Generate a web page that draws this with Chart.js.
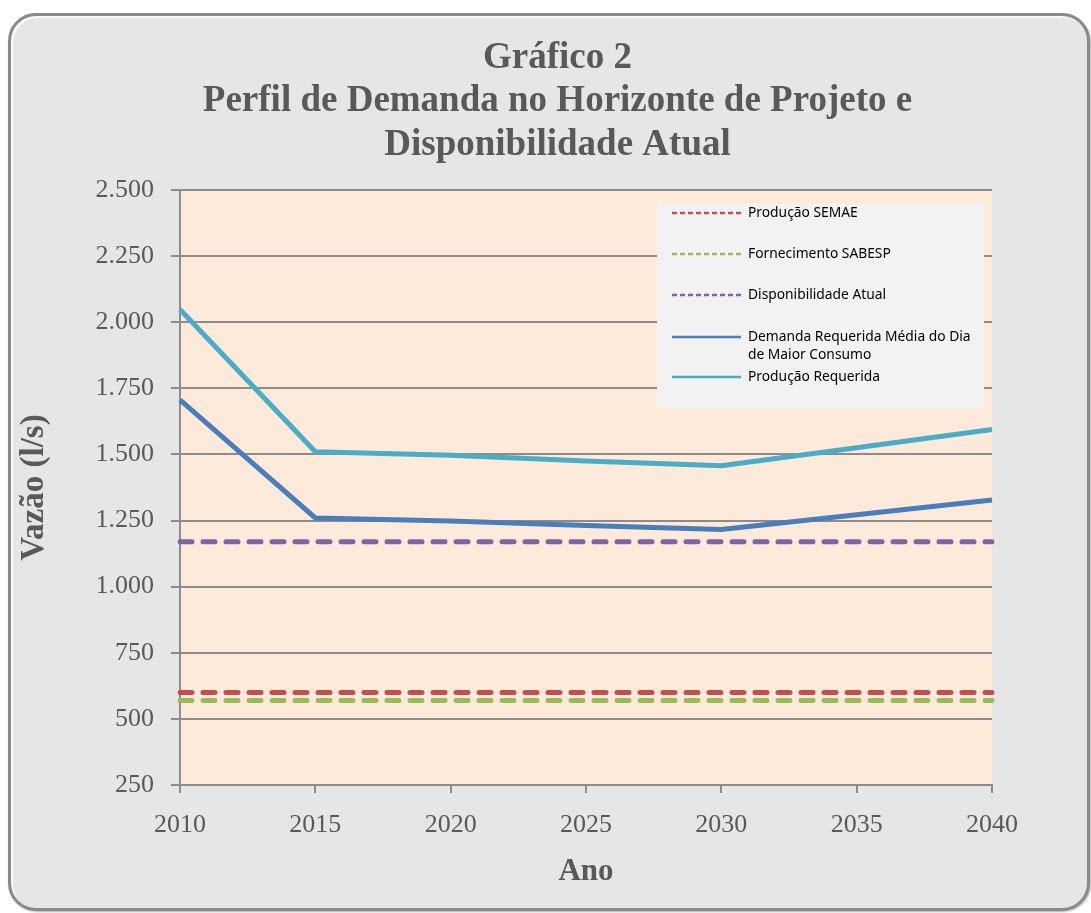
<!DOCTYPE html>
<html lang="pt-BR">
<head>
<meta charset="utf-8">
<title>Gráfico 2</title>
<script src="https://cdn.jsdelivr.net/npm/chart.js@4.4.1/dist/chart.umd.min.js"></script>
<style>
  html, body { margin: 0; padding: 0; background: #fff; overflow: hidden; }
  #panel {
    position: absolute; left: 8px; top: 13px; width: 1082px; height: 898px;
    box-sizing: border-box; background: #e6e6e6;
    border: 3px solid #8a8a8a; border-radius: 28px;
    box-shadow: inset 2px 2px 1px #fafafa, 1px 1px 2px rgba(0,0,0,0.3);
  }
  #wrap { position: absolute; left: 0; top: 0; width: 1091px; height: 913px; }
</style>
</head>
<body>
<div id="panel"></div>
<div id="wrap"><canvas id="grafico" width="1091" height="913"></canvas></div>
<script>
const anos = ['2010', '2015', '2020', '2025', '2030', '2035', '2040'];
const producaoSemae = [600, 600, 600, 600, 600, 600, 600];
const fornecimentoSabesp = [570, 570, 570, 570, 570, 570, 570];
const disponibilidadeAtual = [1170, 1170, 1170, 1170, 1170, 1170, 1170];
const demandaRequerida = [1706, 1260, 1248, 1231, 1216, 1272, 1328];
const producaoRequerida = [2048, 1510, 1497, 1475, 1457, 1525, 1594];
const nomesSeries = [
  'Produção SEMAE',
  'Fornecimento SABESP',
  'Disponibilidade Atual',
  'Demanda Requerida Média do Dia de Maior Consumo',
  'Produção Requerida'
];
const yTicks = [250, 500, 750, 1000, 1250, 1500, 1750, 2000, 2250, 2500];
const tituloLinhas = ['Gráfico 2', 'Perfil de Demanda no Horizonte de Projeto e', 'Disponibilidade Atual'];

const cinza = '#595959';
const grade = '#8c8c8c';
const serif = '"Liberation Serif", "Times New Roman", serif';

function formatoBR(v) {
  return String(v).replace(/\B(?=(\d{3})+(?!\d))/g, '.');
}

// fundo da área de plotagem
const fundoPlot = {
  id: 'fundoPlot',
  beforeDraw(chart) {
    const { ctx, chartArea: a } = chart;
    ctx.save();
    ctx.fillStyle = '#fdeada';
    ctx.fillRect(a.left, a.top, a.right - a.left, a.bottom - a.top);
    ctx.restore();
  }
};

// título centrado no painel (o do Chart.js fica centrado no layout)
const tituloPainel = {
  id: 'tituloPainel',
  afterDraw(chart) {
    const { ctx } = chart;
    ctx.save();
    ctx.fillStyle = cinza;
    ctx.font = 'bold 37px ' + serif;
    ctx.textAlign = 'center';
    ctx.textBaseline = 'middle';
    tituloLinhas.forEach((t, i) => ctx.fillText(t, chart.width / 2 + 12, 58 + i * 43.5));
    ctx.restore();
  }
};

// legenda dentro da área, como no original
const legendaInterna = {
  id: 'legendaInterna',
  afterDraw(chart) {
    const { ctx, chartArea: a } = chart;
    const bx = a.right - 335, by = a.top + 13, bw = 327, bh = 205;
    ctx.save();
    ctx.fillStyle = '#f2f2f2';
    ctx.fillRect(bx, by, bw, bh);
    ctx.font = '13.8px "Noto Sans", sans-serif';
    ctx.textBaseline = 'middle';
    const linhasY = [10, 51, 92, 134, 174];
    chart.data.datasets.forEach((ds, i) => {
      const y = by + linhasY[i];
      ctx.strokeStyle = ds.borderColor;
      ctx.lineWidth = 2.5;
      ctx.setLineDash(ds.borderDash && ds.borderDash.length ? [5, 3] : []);
      ctx.beginPath();
      ctx.moveTo(bx + 15, y);
      ctx.lineTo(bx + 84, y);
      ctx.stroke();
      ctx.fillStyle = '#000';
      // quebra de linha simples
      const palavras = ds.label.split(' ');
      let linha = '', ly = y;
      palavras.forEach(p => {
        const teste = linha ? linha + ' ' + p : p;
        if (ctx.measureText(teste).width > 232 && linha) {
          ctx.fillText(linha, bx + 91, ly);
          linha = p; ly += 18;
        } else linha = teste;
      });
      ctx.fillText(linha, bx + 91, ly);
    });
    ctx.restore();
  }
};

function serie(label, data, cor, tracejado) {
  return {
    label: label,
    data: data,
    borderColor: cor,
    backgroundColor: cor,
    borderWidth: 5,
    borderDash: tracejado ? [12, 11] : [],
    borderCapStyle: tracejado ? 'round' : 'butt',
    pointRadius: 0,
    tension: 0,
    fill: false
  };
}

const ctx = document.getElementById('grafico').getContext('2d');
new Chart(ctx, {
  type: 'line',
  data: {
    labels: anos,
    datasets: [
      serie(nomesSeries[0], producaoSemae, '#c0504d', true),
      serie(nomesSeries[1], fornecimentoSabesp, '#9bbb59', true),
      serie(nomesSeries[2], disponibilidadeAtual, '#8064a2', true),
      serie(nomesSeries[3], demandaRequerida, '#4a7ebb', false),
      serie(nomesSeries[4], producaoRequerida, '#4bacc6', false)
    ]
  },
  options: {
    responsive: false,
    animation: false,
    layout: { padding: { left: 0, right: 99, top: 190, bottom: 0 } },
    plugins: {
      legend: { display: false },
      tooltip: { enabled: false },
      title: { display: false }
    },
    scales: {
      x: {
        type: 'category',
        offset: false,
        afterFit(scale) { scale.height = 128; },
        border: { display: true, color: grade, width: 2 },
        grid: { display: true, drawOnChartArea: false, drawTicks: true, tickLength: 8, color: grade, lineWidth: 2 },
        ticks: {
          color: cinza, padding: 17, maxRotation: 0,
          font: { family: serif, size: 26 }
        },
        title: {
          display: true, text: 'Ano', color: cinza,
          font: { family: serif, size: 31, weight: 'bold', lineHeight: 1.2 },
          padding: { top: 0, bottom: 22 }
        }
      },
      y: {
        min: 250,
        max: 2500,
        afterFit(scale) { scale.width = 180; },
        afterBuildTicks(scale) { scale.ticks = yTicks.map(v => ({ value: v })); },
        border: { display: true, color: grade, width: 2 },
        grid: { color: grade, lineWidth: 2, tickLength: 9 },
        ticks: {
          color: cinza, padding: 17,
          font: { family: serif, size: 26 },
          callback: v => formatoBR(v)
        },
        title: {
          display: true, text: 'Vazão (l/s)', color: cinza,
          font: { family: serif, size: 33, weight: 'bold', lineHeight: 1.2 },
          padding: { top: 15, bottom: 0 }
        }
      }
    }
  },
  plugins: [fundoPlot, tituloPainel, legendaInterna]
});
</script>
</body>
</html>
